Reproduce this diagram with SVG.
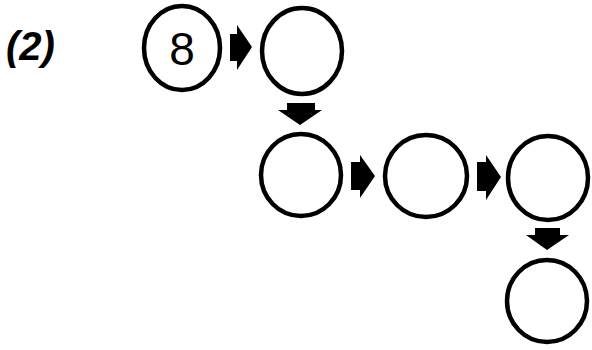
<svg xmlns="http://www.w3.org/2000/svg" width="592" height="350" viewBox="0 0 592 350">
<style>
.n{fill:none;stroke:#000;stroke-width:4.5}
.a{fill:#000;stroke:none}
.t{font-family:"Liberation Sans",Arial,sans-serif;fill:#000}
</style>
<rect width="592" height="350" fill="#fff"/>
<text class="t" x="6" y="60" font-size="40" font-style="italic" font-weight="bold">(2)</text>
<g id="n1"><ellipse class="n" cx="182" cy="48" rx="38" ry="42"/><text class="t" x="182" y="65" font-size="46" text-anchor="middle">8</text></g>
<g id="n2"><ellipse class="n" cx="302" cy="51" rx="40" ry="43"/></g>
<g id="n3"><ellipse class="n" cx="301" cy="175" rx="40" ry="41"/></g>
<g id="n4"><ellipse class="n" cx="426" cy="176" rx="41" ry="41"/></g>
<g id="n5"><ellipse class="n" cx="548" cy="178" rx="40" ry="42"/></g>
<g id="n6"><ellipse class="n" cx="547" cy="301" rx="40" ry="41"/></g>
<g id="connectors">
<polygon class="a" points="230,34 237,34 237,25 252,47 237,70 237,61 230,61"/>
<polygon class="a" points="287,103 315,103 315,110 322,110 300,125 278,110 287,110"/>
<polygon class="a" points="351,162 360,162 360,155 375,176 360,198 360,190 351,190"/>
<polygon class="a" points="477,162 486,162 486,155 501,177 486,200 486,191 477,191"/>
<polygon class="a" points="535,228 560,228 560,235 569,235 547,250 526,235 535,235"/>
</g>
</svg>
